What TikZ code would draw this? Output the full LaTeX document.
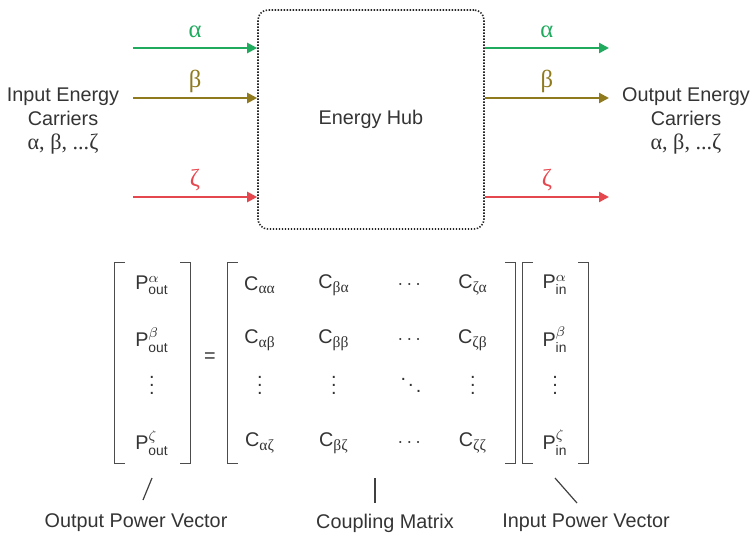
\documentclass[tikz,border=0pt]{standalone}
\usepackage{amsmath}
\usepackage{fontspec}
\setmainfont{Liberation Sans}
\newfontfamily\grk[Scale=1.12]{Liberation Serif}
\usepackage{tikz}
\usetikzlibrary{matrix,arrows.meta}

\definecolor{carrierA}{RGB}{31,170,94}
\definecolor{carrierB}{RGB}{143,122,30}
\definecolor{carrierZ}{RGB}{229,71,78}
\definecolor{inkgray}{RGB}{52,52,52}

\newcommand{\hubsize}{\fontsize{9.9}{11.8}\selectfont}
\newcommand{\Pout}[1]{P$^{#1}_{\text{out}}$}
\newcommand{\Pin}[1]{P$^{#1}_{\text{in}}$}
\newcommand{\Cf}[1]{C$_{\text{\grk #1}}$}
% brackets round a matrix: name, horizontal offset
\newcommand{\lbrak}[2]{\draw[brak] ([shift={(-#2+5pt,3pt)}]#1.north west) -- ([shift={(-#2,3pt)}]#1.north west)
  -- ([shift={(-#2,-2pt)}]#1.south west) -- ([shift={(-#2+5pt,-2pt)}]#1.south west);}
\newcommand{\rbrak}[2]{\draw[brak] ([shift={(#2-5pt,3pt)}]#1.north east) -- ([shift={(#2,3pt)}]#1.north east)
  -- ([shift={(#2,-2pt)}]#1.south east) -- ([shift={(#2-5pt,-2pt)}]#1.south east);}

\tikzset{
  flow/.style={line width=1.1pt,-{Triangle[length=5pt,width=5pt]}},
  lab/.style={above=-0.5pt,text height=7pt,text depth=2pt,font=\fontsize{11}{13}\selectfont\grk},
  hub/.style={draw=black!85,dash pattern=on 0.7pt off 0.8pt,line width=0.8pt,rounded corners=5pt,
    minimum width=113pt,minimum height=109.5pt},
  cell/.style={minimum width=20pt,minimum height=16pt,inner sep=0pt,anchor=center},
  brak/.style={draw=black!70,line width=0.6pt},
  pointer/.style={draw=black!75,line width=0.6pt},
}

\begin{document}
\begin{tikzpicture}[x=0.5pt,y=-0.5pt,font=\hubsize,text=inkgray]
  \useasboundingbox (0,0) rectangle (752,536);

  % the hub and its carriers
  \node[hub] (hub) at (371,119.5) {Energy Hub};
  \node[align=center] (incar) at (63,121) {Input Energy\\Carriers\\{\grk α, β, ...ζ}};
  \node[align=center] (outcar) at (686,121) {Output Energy\\Carriers\\{\grk α, β, ...ζ}};

  \coordinate (inA) at (133,48);
  \coordinate (inB) at (133,98);
  \coordinate (inZ) at (133,197);
  \coordinate (outA) at (609,48);
  \coordinate (outB) at (609,98);
  \coordinate (outZ) at (609,197);

  \draw[flow,carrierA] (inA) -- (inA -| hub.west) node[lab,midway,text=carrierA] {α};
  \draw[flow,carrierB] (inB) -- (inB -| hub.west) node[lab,midway,text=carrierB] {β};
  \draw[flow,carrierZ] (inZ) -- (inZ -| hub.west) node[lab,midway,text=carrierZ] {ζ};
  \draw[flow,carrierA] (outA -| hub.east) -- (outA) node[lab,midway,text=carrierA] {α};
  \draw[flow,carrierB] (outB -| hub.east) -- (outB) node[lab,midway,text=carrierB] {β};
  \draw[flow,carrierZ] (outZ -| hub.east) -- (outZ) node[lab,midway,text=carrierZ] {ζ};

  % power balance
  \matrix (ov) [matrix of nodes,inner sep=0pt,nodes={cell},row sep=6pt] at (152,364)
  {
    \Pout{\alpha} \\[5.5pt]
    \Pout{\beta} \\[-2.5pt]
    $\vdots$ \\[10pt]
    \Pout{\zeta} \\};
  \node (eq) at (210,358) {=};
  \matrix (cm) [matrix of nodes,inner sep=0pt,nodes={cell},row sep=6pt,column sep=11pt] at (366.5,364)
  {
    \Cf{αα} &[6pt] \Cf{βα} &[7.5pt] $\cdots$ & \Cf{ζα} \\[5.5pt]
    \Cf{αβ} &[6pt] \Cf{ββ} &[7.5pt] $\cdots$ & \Cf{ζβ} \\[-2.5pt]
    $\vdots$ &[6pt] $\vdots$ &[7.5pt] $\ddots$ & $\vdots$ \\[10pt]
    \Cf{αζ} &[6pt] \Cf{βζ} &[7.5pt] $\cdots$ & \Cf{ζζ} \\};
  \matrix (iv) [matrix of nodes,inner sep=0pt,nodes={cell},row sep=6pt] at (555,364)
  {
    \Pin{\alpha} \\[5.5pt]
    \Pin{\beta} \\[-2.5pt]
    $\vdots$ \\[10pt]
    \Pin{\zeta} \\};

  \lbrak{ov}{8.5pt} \rbrak{ov}{9pt}
  \lbrak{cm}{6pt} \rbrak{cm}{11pt}
  \lbrak{iv}{6pt} \rbrak{iv}{6.5pt}

  % what each part is
  \node (ovlab) at (136,523) {Output Power Vector};
  \node (cmlab) at (385,523) {Coupling Matrix};
  \node (ivlab) at (586,523) {Input Power Vector};
  \coordinate (ovtop) at (152,478);
  \coordinate (ovfoot) at (143,500);
  \coordinate (cmtop) at (375,478);
  \coordinate (cmfoot) at (375,503);
  \coordinate (ivtop) at (555,478);
  \coordinate (ivfoot) at (577,503);
  \draw[pointer] (ovtop) -- (ovfoot);
  \draw[pointer] (cmtop) -- (cmfoot);
  \draw[pointer] (ivtop) -- (ivfoot);
\end{tikzpicture}
\end{document}
